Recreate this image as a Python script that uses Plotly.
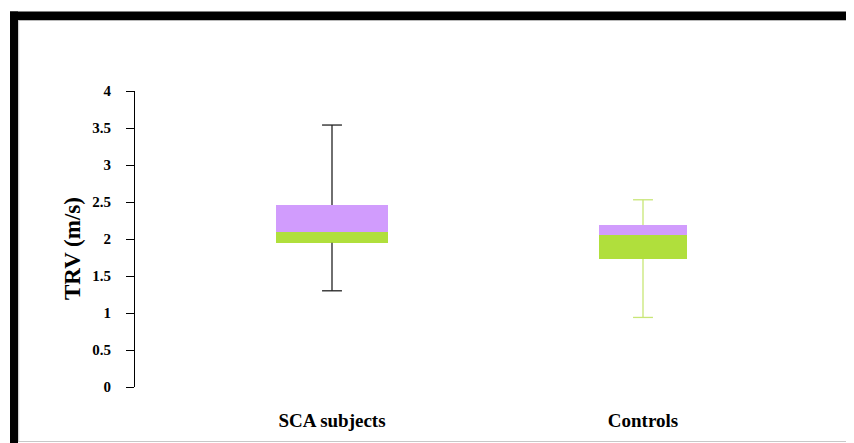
import plotly.graph_objects as go

categories = ["SCA subjects", "Controls"]
minimum = [1.30, 0.94]
q1 = [1.95, 1.73]
median = [2.09, 2.05]
q3 = [2.46, 2.19]
maximum = [3.54, 2.53]
y_ticks = [0, 0.5, 1, 1.5, 2, 2.5, 3, 3.5, 4]
y_tick_labels = ["0", "0.5", "1", "1.5", "2", "2.5", "3", "3.5", "4"]

GREEN = "#b0df3c"
PURPLE = "#d19cfd"
whisker_colors = ["#222222", "#c8e676"]
box_widths = [0.357, 0.28]
cap = 0.032
SERIF = "Liberation Serif, Times New Roman, serif"

OFF = 8  # page body offset of the figure inside the window
W, H = 854 - OFF, 443 - OFF
L = 135 - OFF
T = 91 - OFF
B = H - (387 - OFF)
R = W - (830 - OFF)
pw, ph = W - L - R, H - T - B

def px(x):
    return (x - OFF - L) / pw

def py(y):
    return (H - B - (y - OFF)) / ph

xs = list(range(len(categories)))

fig = go.Figure()
fig.add_trace(go.Bar(x=xs, base=q1, y=[m - a for m, a in zip(median, q1)],
                     width=box_widths, marker=dict(color=GREEN, line=dict(width=0)),
                     hoverinfo="skip", showlegend=False))
fig.add_trace(go.Bar(x=xs, base=median, y=[b - m for b, m in zip(q3, median)],
                     width=box_widths, marker=dict(color=PURPLE, line=dict(width=0)),
                     hoverinfo="skip", showlegend=False))

for i in xs:
    wx = [i, i, None, i - cap, i + cap, None, i, i, None, i - cap, i + cap]
    wy = [q3[i], maximum[i], None, maximum[i], maximum[i], None,
          q1[i], minimum[i], None, minimum[i], minimum[i]]
    fig.add_trace(go.Scatter(x=wx, y=wy, mode="lines",
                             line=dict(color=whisker_colors[i], width=1.3),
                             hoverinfo="skip", showlegend=False))

shapes = [
    dict(type="rect", xref="paper", yref="paper", x0=px(10), x1=px(880),
         y0=py(20), y1=py(11.5), fillcolor="black", line=dict(width=0), layer="above"),
    dict(type="rect", xref="paper", yref="paper", x0=px(10), x1=px(18),
         y0=py(470), y1=py(11.5), fillcolor="black", line=dict(width=0), layer="above"),
    dict(type="line", xref="paper", yref="paper", x0=px(18), x1=px(880),
         y0=py(20.5), y1=py(20.5), line=dict(color="#b8b8b8", width=1)),
    dict(type="line", xref="paper", yref="paper", x0=px(18.7), x1=px(18.7),
         y0=py(441), y1=py(20.5), line=dict(color="#c0c0c0", width=1)),
    dict(type="line", xref="paper", yref="paper", x0=px(18), x1=px(880),
         y0=py(441.5), y1=py(441.5), line=dict(color="#c8c8c8", width=1)),
]

x_unit = (643 - 332)  # pixels between the two category centres
fig.update_layout(
    width=W, height=H,
    margin=dict(l=L, r=R, t=T, b=B, pad=0),
    paper_bgcolor="white", plot_bgcolor="white",
    barmode="overlay", bargap=0,
    font=dict(family=SERIF, color="black"),
    shapes=shapes,
    annotations=[dict(text="<b>TRV (m/s)</b>", textangle=-90, xref="paper", yref="paper",
                      x=px(72), y=py(249), xanchor="center", yanchor="middle",
                      showarrow=False,
                      font=dict(family=SERIF, size=23, color="black"))],
    xaxis=dict(range=[-(332 - 135) / x_unit, 1 + (830 - 643) / x_unit], tickvals=xs,
               ticktext=["<b>%s</b>" % c for c in categories],
               showline=False, showgrid=False, zeroline=False, ticks="",
               ticklabelstandoff=20,
               tickfont=dict(family=SERIF, size=19, color="black")),
    yaxis=dict(range=[0, 4], tickvals=y_ticks,
               ticktext=["<b>%s</b>" % t for t in y_tick_labels],
               showline=True, linecolor="black", linewidth=1,
               ticks="outside", ticklen=8, tickcolor="black", tickwidth=1,
               showgrid=False, zeroline=False, ticklabelstandoff=12,
               tickfont=dict(family=SERIF, size=15, color="black")),
)

fig.write_html("out.html")
